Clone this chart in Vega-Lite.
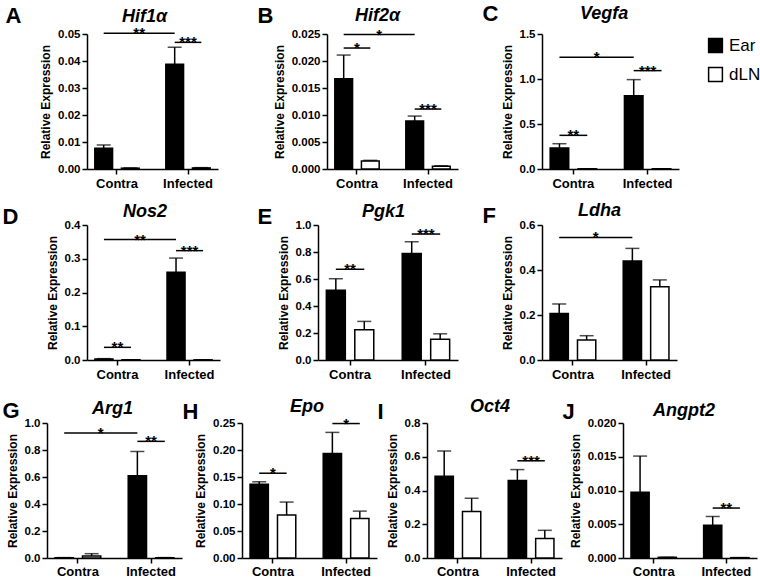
{
"$schema":"https://vega.github.io/schema/vega-lite/v6.json",
"padding":{"left":1,"top":2,"right":0,"bottom":0},
"spacing":17,
"resolve":{"scale":{"xOffset":"independent","fill":"independent"},"legend":{"fill":"independent"}},
"vconcat":[
{"spacing":12,
 "resolve":{"scale":{"xOffset":"independent","fill":"independent"},"legend":{"fill":"independent"}},
 "vconcat":[
 {"spacing":0,
  "resolve":{"scale":{"xOffset":"independent","fill":"independent"},"legend":{"fill":"independent"}},
  "hconcat":[
  {"width":4,"height":135,"data":{"values":[]},"mark":"point"},
  {"width":170,"height":135,"title":{"text":"Hif1α","dx":35,"offset":-21.5},
   "data":{"values":[{"g":"Contra","t":"Ear","m":0.0077,"hi":0.0089},{"g":"Contra","t":"dLN","m":0.0003,"hi":0.0004},{"g":"Infected","t":"Ear","m":0.0388,"hi":0.0451},{"g":"Infected","t":"dLN","m":0.0004,"hi":0.0005}]},
   "layer":[
    {"mark":{"type":"bar","stroke":"black","strokeWidth":1.5},"encoding":{
     "x":{"field":"g","type":"nominal","scale":{"domain":["Contra","Infected"],"range":[0,131],"paddingInner":0.375,"paddingOuter":0.11},"axis":{"title":"A","titleX":-82,"titleY":-147}},
     "xOffset":{"field":"t","type":"nominal","scale":{"domain":["Ear","dLN"],"paddingInner":0.333,"paddingOuter":0}},
     "y":{"field":"m","type":"quantitative","scale":{"domain":[0,0.05],"nice":false},"axis":{"title":"Relative Expression","values":[0,0.01,0.02,0.03,0.04,0.05],"tickCount":20,"format":".2f"}},
     "fill":{"field":"t","type":"nominal","scale":{"domain":["Ear","dLN"],"range":["black","white"]},"legend":null}}},
    {"mark":{"type":"rule","color":"black","strokeWidth":1.5},"encoding":{"x":{"field":"g","type":"nominal"},"xOffset":{"field":"t","type":"nominal"},"y":{"field":"m","type":"quantitative"},"y2":{"field":"hi"}}},
    {"mark":{"type":"tick","color":"black","size":14,"thickness":1.5},"encoding":{"x":{"field":"g","type":"nominal"},"xOffset":{"field":"t","type":"nominal"},"y":{"field":"hi","type":"quantitative"}}},
    {"data":{"values":[{"id":1,"g":"Contra","t":"Ear","y":0.0503},{"id":1,"g":"Infected","t":"Ear","y":0.0503},{"id":2,"g":"Infected","t":"Ear","y":0.0469},{"id":2,"g":"Infected","t":"dLN","y":0.0469}]},
     "mark":{"type":"line","color":"black","strokeWidth":1.5},"encoding":{"x":{"field":"g","type":"nominal"},"xOffset":{"field":"t","type":"nominal"},"y":{"field":"y","type":"quantitative"},"detail":{"field":"id"}}},
    {"data":{"values":[{"g":"Infected","y":0.0469,"s":"***"}]},"mark":{"type":"text","fontSize":15,"fontWeight":"bold","baseline":"alphabetic","dy":5},"encoding":{"x":{"field":"g","type":"nominal"},"y":{"field":"y","type":"quantitative"},"text":{"field":"s"}}},
    {"data":{"values":[{"g":"Contra","y":0.0503,"s":"**"}]},"mark":{"type":"text","fontSize":15,"fontWeight":"bold","baseline":"alphabetic","dy":5},"encoding":{"x":{"field":"g","type":"nominal","bandPosition":1},"y":{"field":"y","type":"quantitative"},"text":{"field":"s"}}}
   ]},
  {"width":155,"height":135,"title":{"text":"Hif2α","dx":28,"offset":-20.5},
   "data":{"values":[{"g":"Contra","t":"Ear","m":0.0167,"hi":0.0211},{"g":"Contra","t":"dLN","m":0.0015,"hi":0.0016},{"g":"Infected","t":"Ear","m":0.0089,"hi":0.0098},{"g":"Infected","t":"dLN","m":0.0005,"hi":0.0006}]},
   "layer":[
    {"mark":{"type":"bar","stroke":"black","strokeWidth":1.5},"encoding":{
     "x":{"field":"g","type":"nominal","scale":{"domain":["Contra","Infected"],"range":[0,131],"paddingInner":0.375,"paddingOuter":0.11},"axis":{"title":"B","titleX":-70,"titleY":-147}},
     "xOffset":{"field":"t","type":"nominal","scale":{"domain":["Ear","dLN"],"paddingInner":0.333,"paddingOuter":0}},
     "y":{"field":"m","type":"quantitative","scale":{"domain":[0,0.025],"nice":false},"axis":{"title":"Relative Expression","values":[0,0.005,0.01,0.015,0.02,0.025],"tickCount":20,"format":".3f"}},
     "fill":{"field":"t","type":"nominal","scale":{"domain":["Ear","dLN"],"range":["black","white"]},"legend":null}}},
    {"mark":{"type":"rule","color":"black","strokeWidth":1.5},"encoding":{"x":{"field":"g","type":"nominal"},"xOffset":{"field":"t","type":"nominal"},"y":{"field":"m","type":"quantitative"},"y2":{"field":"hi"}}},
    {"mark":{"type":"tick","color":"black","size":14,"thickness":1.5},"encoding":{"x":{"field":"g","type":"nominal"},"xOffset":{"field":"t","type":"nominal"},"y":{"field":"hi","type":"quantitative"}}},
    {"data":{"values":[{"id":1,"g":"Contra","t":"Ear","y":0.0249},{"id":1,"g":"Infected","t":"Ear","y":0.0249},{"id":2,"g":"Contra","t":"Ear","y":0.0224},{"id":2,"g":"Contra","t":"dLN","y":0.0224},{"id":3,"g":"Infected","t":"Ear","y":0.0111},{"id":3,"g":"Infected","t":"dLN","y":0.0111}]},
     "mark":{"type":"line","color":"black","strokeWidth":1.5},"encoding":{"x":{"field":"g","type":"nominal"},"xOffset":{"field":"t","type":"nominal"},"y":{"field":"y","type":"quantitative"},"detail":{"field":"id"}}},
    {"data":{"values":[{"g":"Contra","y":0.0224,"s":"*"},{"g":"Infected","y":0.0111,"s":"***"}]},"mark":{"type":"text","fontSize":15,"fontWeight":"bold","baseline":"alphabetic","dy":5},"encoding":{"x":{"field":"g","type":"nominal"},"y":{"field":"y","type":"quantitative"},"text":{"field":"s"}}},
    {"data":{"values":[{"g":"Contra","y":0.0249,"s":"*"}]},"mark":{"type":"text","fontSize":15,"fontWeight":"bold","baseline":"alphabetic","dy":5},"encoding":{"x":{"field":"g","type":"nominal","bandPosition":1},"y":{"field":"y","type":"quantitative"},"text":{"field":"s"}}}
   ]},
  {"width":137,"height":135,"title":{"text":"Vegfa","dx":38,"offset":-20.5},
   "data":{"values":[{"g":"Contra","t":"Ear","m":0.233,"hi":0.281},{"g":"Contra","t":"dLN","m":0.002,"hi":0.003},{"g":"Infected","t":"Ear","m":0.815,"hi":0.993},{"g":"Infected","t":"dLN","m":0.002,"hi":0.003}]},
   "layer":[
    {"mark":{"type":"bar","stroke":"black","strokeWidth":1.5},"encoding":{
     "x":{"field":"g","type":"nominal","scale":{"domain":["Contra","Infected"],"range":[0,137],"paddingInner":0.375,"paddingOuter":0.11},"axis":{"title":"C","titleX":-60,"titleY":-149}},
     "xOffset":{"field":"t","type":"nominal","scale":{"domain":["Ear","dLN"],"paddingInner":0.333,"paddingOuter":0}},
     "y":{"field":"m","type":"quantitative","scale":{"domain":[0,1.5],"nice":false},"axis":{"title":"Relative Expression","values":[0,0.5,1,1.5],"tickCount":20,"format":".1f","labelBound":false,"labelFlush":false,"labelOverlap":false}},
     "fill":{"field":"t","type":"nominal","scale":{"domain":["Ear","dLN"],"range":["black","white"]},"legend":{"orient":"right","offset":25,"padding":3,"title":null,"symbolType":"square","symbolSize":190,"symbolStrokeColor":"black","symbolStrokeWidth":1.5,"labelFontSize":17,"labelFontWeight":"normal","labelColor":"black","labelOffset":5,"rowPadding":8}}}},
    {"mark":{"type":"rule","color":"black","strokeWidth":1.5},"encoding":{"x":{"field":"g","type":"nominal"},"xOffset":{"field":"t","type":"nominal"},"y":{"field":"m","type":"quantitative"},"y2":{"field":"hi"}}},
    {"mark":{"type":"tick","color":"black","size":14,"thickness":1.5},"encoding":{"x":{"field":"g","type":"nominal"},"xOffset":{"field":"t","type":"nominal"},"y":{"field":"hi","type":"quantitative"}}},
    {"data":{"values":[{"id":1,"g":"Contra","t":"Ear","y":1.241},{"id":1,"g":"Infected","t":"Ear","y":1.241},{"id":2,"g":"Infected","t":"Ear","y":1.093},{"id":2,"g":"Infected","t":"dLN","y":1.093},{"id":3,"g":"Contra","t":"Ear","y":0.374},{"id":3,"g":"Contra","t":"dLN","y":0.374}]},
     "mark":{"type":"line","color":"black","strokeWidth":1.5},"encoding":{"x":{"field":"g","type":"nominal"},"xOffset":{"field":"t","type":"nominal"},"y":{"field":"y","type":"quantitative"},"detail":{"field":"id"}}},
    {"data":{"values":[{"g":"Infected","y":1.093,"s":"***"},{"g":"Contra","y":0.374,"s":"**"}]},"mark":{"type":"text","fontSize":15,"fontWeight":"bold","baseline":"alphabetic","dy":5},"encoding":{"x":{"field":"g","type":"nominal"},"y":{"field":"y","type":"quantitative"},"text":{"field":"s"}}},
    {"data":{"values":[{"g":"Contra","y":1.241,"s":"*"}]},"mark":{"type":"text","fontSize":15,"fontWeight":"bold","baseline":"alphabetic","dy":5},"encoding":{"x":{"field":"g","type":"nominal","bandPosition":1},"y":{"field":"y","type":"quantitative"},"text":{"field":"s"}}}
   ]}
  ]},
 {"spacing":0,
  "resolve":{"scale":{"xOffset":"independent","fill":"independent"},"legend":{"fill":"independent"}},
  "hconcat":[
  {"width":1,"height":135,"data":{"values":[]},"mark":"point"},
  {"width":170,"height":135,"title":{"text":"Nos2","dx":36,"offset":-16},
   "data":{"values":[{"g":"Contra","t":"Ear","m":0.003,"hi":0.004},{"g":"Contra","t":"dLN","m":0.0005,"hi":0.0006},{"g":"Infected","t":"Ear","m":0.26,"hi":0.302},{"g":"Infected","t":"dLN","m":0.0005,"hi":0.0006}]},
   "layer":[
    {"mark":{"type":"bar","stroke":"black","strokeWidth":1.5},"encoding":{
     "x":{"field":"g","type":"nominal","scale":{"domain":["Contra","Infected"],"range":[0,133],"paddingInner":0.375,"paddingOuter":0.11},"axis":{"title":"D","titleX":-85,"titleY":-137}},
     "xOffset":{"field":"t","type":"nominal","scale":{"domain":["Ear","dLN"],"paddingInner":0.333,"paddingOuter":0}},
     "y":{"field":"m","type":"quantitative","scale":{"domain":[0,0.4],"nice":false},"axis":{"title":"Relative Expression","values":[0,0.1,0.2,0.3,0.4],"tickCount":20,"format":".1f"}},
     "fill":{"field":"t","type":"nominal","scale":{"domain":["Ear","dLN"],"range":["black","white"]},"legend":null}}},
    {"mark":{"type":"rule","color":"black","strokeWidth":1.5},"encoding":{"x":{"field":"g","type":"nominal"},"xOffset":{"field":"t","type":"nominal"},"y":{"field":"m","type":"quantitative"},"y2":{"field":"hi"}}},
    {"mark":{"type":"tick","color":"black","size":14,"thickness":1.5},"encoding":{"x":{"field":"g","type":"nominal"},"xOffset":{"field":"t","type":"nominal"},"y":{"field":"hi","type":"quantitative"}}},
    {"data":{"values":[{"id":1,"g":"Contra","t":"Ear","y":0.357},{"id":1,"g":"Infected","t":"Ear","y":0.357},{"id":2,"g":"Infected","t":"Ear","y":0.324},{"id":2,"g":"Infected","t":"dLN","y":0.324},{"id":3,"g":"Contra","t":"Ear","y":0.0375},{"id":3,"g":"Contra","t":"dLN","y":0.0375}]},
     "mark":{"type":"line","color":"black","strokeWidth":1.5},"encoding":{"x":{"field":"g","type":"nominal"},"xOffset":{"field":"t","type":"nominal"},"y":{"field":"y","type":"quantitative"},"detail":{"field":"id"}}},
    {"data":{"values":[{"g":"Infected","y":0.324,"s":"***"},{"g":"Contra","y":0.0375,"s":"**"}]},"mark":{"type":"text","fontSize":15,"fontWeight":"bold","baseline":"alphabetic","dy":5},"encoding":{"x":{"field":"g","type":"nominal"},"y":{"field":"y","type":"quantitative"},"text":{"field":"s"}}},
    {"data":{"values":[{"g":"Contra","y":0.357,"s":"**"}]},"mark":{"type":"text","fontSize":15,"fontWeight":"bold","baseline":"alphabetic","dy":5},"encoding":{"x":{"field":"g","type":"nominal","bandPosition":1},"y":{"field":"y","type":"quantitative"},"text":{"field":"s"}}}
   ]},
  {"width":164,"height":135,"title":{"text":"Pgk1","dx":44,"offset":-16},
   "data":{"values":[{"g":"Contra","t":"Ear","m":0.517,"hi":0.602},{"g":"Contra","t":"dLN","m":0.224,"hi":0.286},{"g":"Infected","t":"Ear","m":0.789,"hi":0.876},{"g":"Infected","t":"dLN","m":0.154,"hi":0.194}]},
   "layer":[
    {"mark":{"type":"bar","stroke":"black","strokeWidth":1.5},"encoding":{
     "x":{"field":"g","type":"nominal","scale":{"domain":["Contra","Infected"],"range":[0,140],"paddingInner":0.375,"paddingOuter":0.11},"axis":{"title":"E","titleX":-61,"titleY":-137}},
     "xOffset":{"field":"t","type":"nominal","scale":{"domain":["Ear","dLN"],"paddingInner":0.333,"paddingOuter":0}},
     "y":{"field":"m","type":"quantitative","scale":{"domain":[0,1],"nice":false},"axis":{"title":"Relative Expression","values":[0,0.2,0.4,0.6,0.8,1],"tickCount":20,"format":".1f"}},
     "fill":{"field":"t","type":"nominal","scale":{"domain":["Ear","dLN"],"range":["black","white"]},"legend":null}}},
    {"mark":{"type":"rule","color":"black","strokeWidth":1.5},"encoding":{"x":{"field":"g","type":"nominal"},"xOffset":{"field":"t","type":"nominal"},"y":{"field":"m","type":"quantitative"},"y2":{"field":"hi"}}},
    {"mark":{"type":"tick","color":"black","size":14,"thickness":1.5},"encoding":{"x":{"field":"g","type":"nominal"},"xOffset":{"field":"t","type":"nominal"},"y":{"field":"hi","type":"quantitative"}}},
    {"data":{"values":[{"id":1,"g":"Contra","t":"Ear","y":0.672},{"id":1,"g":"Contra","t":"dLN","y":0.672},{"id":2,"g":"Infected","t":"Ear","y":0.933},{"id":2,"g":"Infected","t":"dLN","y":0.933}]},
     "mark":{"type":"line","color":"black","strokeWidth":1.5},"encoding":{"x":{"field":"g","type":"nominal"},"xOffset":{"field":"t","type":"nominal"},"y":{"field":"y","type":"quantitative"},"detail":{"field":"id"}}},
    {"data":{"values":[{"g":"Contra","y":0.672,"s":"**"},{"g":"Infected","y":0.933,"s":"***"}]},"mark":{"type":"text","fontSize":15,"fontWeight":"bold","baseline":"alphabetic","dy":5},"encoding":{"x":{"field":"g","type":"nominal"},"y":{"field":"y","type":"quantitative"},"text":{"field":"s"}}}
   ]},
  {"width":135,"height":135,"title":{"text":"Ldha","dx":36,"offset":-16},
   "data":{"values":[{"g":"Contra","t":"Ear","m":0.207,"hi":0.249},{"g":"Contra","t":"dLN","m":0.089,"hi":0.108},{"g":"Infected","t":"Ear","m":0.44,"hi":0.496},{"g":"Infected","t":"dLN","m":0.326,"hi":0.356}]},
   "layer":[
    {"mark":{"type":"bar","stroke":"black","strokeWidth":1.5},"encoding":{
     "x":{"field":"g","type":"nominal","scale":{"domain":["Contra","Infected"],"range":[0,135],"paddingInner":0.375,"paddingOuter":0.11},"axis":{"title":"F","titleX":-60,"titleY":-138}},
     "xOffset":{"field":"t","type":"nominal","scale":{"domain":["Ear","dLN"],"paddingInner":0.333,"paddingOuter":0}},
     "y":{"field":"m","type":"quantitative","scale":{"domain":[0,0.6],"nice":false},"axis":{"title":"Relative Expression","values":[0,0.2,0.4,0.6],"tickCount":20,"format":".1f"}},
     "fill":{"field":"t","type":"nominal","scale":{"domain":["Ear","dLN"],"range":["black","white"]},"legend":null}}},
    {"mark":{"type":"rule","color":"black","strokeWidth":1.5},"encoding":{"x":{"field":"g","type":"nominal"},"xOffset":{"field":"t","type":"nominal"},"y":{"field":"m","type":"quantitative"},"y2":{"field":"hi"}}},
    {"mark":{"type":"tick","color":"black","size":14,"thickness":1.5},"encoding":{"x":{"field":"g","type":"nominal"},"xOffset":{"field":"t","type":"nominal"},"y":{"field":"hi","type":"quantitative"}}},
    {"data":{"values":[{"id":1,"g":"Contra","t":"Ear","y":0.545},{"id":1,"g":"Infected","t":"Ear","y":0.545}]},
     "mark":{"type":"line","color":"black","strokeWidth":1.5},"encoding":{"x":{"field":"g","type":"nominal"},"xOffset":{"field":"t","type":"nominal"},"y":{"field":"y","type":"quantitative"},"detail":{"field":"id"}}},
    {"data":{"values":[{"g":"Contra","y":0.545,"s":"*"}]},"mark":{"type":"text","fontSize":15,"fontWeight":"bold","baseline":"alphabetic","dy":5},"encoding":{"x":{"field":"g","type":"nominal","bandPosition":1},"y":{"field":"y","type":"quantitative"},"text":{"field":"s"}}}
   ]}
  ]}
 ]},
{"spacing":0,
 "resolve":{"scale":{"xOffset":"independent","fill":"independent"},"legend":{"fill":"independent"}},
 "hconcat":[
 {"width":1,"height":135,"data":{"values":[]},"mark":"point"},
 {"width":135,"height":135,"title":{"text":"Arg1","dx":45,"offset":-19},
  "data":{"values":[{"g":"Contra","t":"Ear","m":0.002,"hi":0.003},{"g":"Contra","t":"dLN","m":0.015,"hi":0.032},{"g":"Infected","t":"Ear","m":0.61,"hi":0.789},{"g":"Infected","t":"dLN","m":0.002,"hi":0.003}]},
  "layer":[
   {"mark":{"type":"bar","stroke":"black","strokeWidth":1.5},"encoding":{
    "x":{"field":"g","type":"nominal","scale":{"domain":["Contra","Infected"],"range":[0,135],"paddingInner":0.375,"paddingOuter":0.11},"axis":{"title":"G","titleX":-45,"titleY":-141,"labelPadding":2}},
    "xOffset":{"field":"t","type":"nominal","scale":{"domain":["Ear","dLN"],"paddingInner":0.333,"paddingOuter":0}},
    "y":{"field":"m","type":"quantitative","scale":{"domain":[0,1],"nice":false},"axis":{"title":"Relative Expression","values":[0,0.2,0.4,0.6,0.8,1],"tickCount":20,"format":".1f"}},
    "fill":{"field":"t","type":"nominal","scale":{"domain":["Ear","dLN"],"range":["black","white"]},"legend":null}}},
   {"mark":{"type":"rule","color":"black","strokeWidth":1.5},"encoding":{"x":{"field":"g","type":"nominal"},"xOffset":{"field":"t","type":"nominal"},"y":{"field":"m","type":"quantitative"},"y2":{"field":"hi"}}},
   {"mark":{"type":"tick","color":"black","size":14,"thickness":1.5},"encoding":{"x":{"field":"g","type":"nominal"},"xOffset":{"field":"t","type":"nominal"},"y":{"field":"hi","type":"quantitative"}}},
   {"data":{"values":[{"id":1,"g":"Contra","t":"Ear","y":0.926},{"id":1,"g":"Infected","t":"Ear","y":0.926},{"id":2,"g":"Infected","t":"Ear","y":0.864},{"id":2,"g":"Infected","t":"dLN","y":0.864}]},
    "mark":{"type":"line","color":"black","strokeWidth":1.5},"encoding":{"x":{"field":"g","type":"nominal"},"xOffset":{"field":"t","type":"nominal"},"y":{"field":"y","type":"quantitative"},"detail":{"field":"id"}}},
   {"data":{"values":[{"g":"Infected","y":0.864,"s":"**"}]},"mark":{"type":"text","fontSize":15,"fontWeight":"bold","baseline":"alphabetic","dy":5},"encoding":{"x":{"field":"g","type":"nominal"},"y":{"field":"y","type":"quantitative"},"text":{"field":"s"}}},
   {"data":{"values":[{"g":"Contra","y":0.926,"s":"*"}]},"mark":{"type":"text","fontSize":15,"fontWeight":"bold","baseline":"alphabetic","dy":5},"encoding":{"x":{"field":"g","type":"nominal","bandPosition":1},"y":{"field":"y","type":"quantitative"},"text":{"field":"s"}}}
  ]},
 {"width":135,"height":135,"title":{"text":"Epo","dx":48,"offset":-16},
  "data":{"values":[{"g":"Contra","t":"Ear","m":0.1365,"hi":0.141},{"g":"Contra","t":"dLN","m":0.0794,"hi":0.1036},{"g":"Infected","t":"Ear","m":0.1935,"hi":0.2326},{"g":"Infected","t":"dLN","m":0.0732,"hi":0.0868}]},
  "layer":[
   {"mark":{"type":"bar","stroke":"black","strokeWidth":1.5},"encoding":{
    "x":{"field":"g","type":"nominal","scale":{"domain":["Contra","Infected"],"range":[0,135],"paddingInner":0.375,"paddingOuter":0.11},"axis":{"title":"H","titleX":-60,"titleY":-140,"labelPadding":2}},
    "xOffset":{"field":"t","type":"nominal","scale":{"domain":["Ear","dLN"],"paddingInner":0.333,"paddingOuter":0}},
    "y":{"field":"m","type":"quantitative","scale":{"domain":[0,0.25],"nice":false},"axis":{"title":"Relative Expression","values":[0,0.05,0.1,0.15,0.2,0.25],"tickCount":20,"format":".2f"}},
    "fill":{"field":"t","type":"nominal","scale":{"domain":["Ear","dLN"],"range":["black","white"]},"legend":null}}},
   {"mark":{"type":"rule","color":"black","strokeWidth":1.5},"encoding":{"x":{"field":"g","type":"nominal"},"xOffset":{"field":"t","type":"nominal"},"y":{"field":"m","type":"quantitative"},"y2":{"field":"hi"}}},
   {"mark":{"type":"tick","color":"black","size":14,"thickness":1.5},"encoding":{"x":{"field":"g","type":"nominal"},"xOffset":{"field":"t","type":"nominal"},"y":{"field":"hi","type":"quantitative"}}},
   {"data":{"values":[{"id":1,"g":"Contra","t":"Ear","y":0.157},{"id":1,"g":"Contra","t":"dLN","y":0.157},{"id":2,"g":"Infected","t":"Ear","y":0.249},{"id":2,"g":"Infected","t":"dLN","y":0.249}]},
    "mark":{"type":"line","color":"black","strokeWidth":1.5},"encoding":{"x":{"field":"g","type":"nominal"},"xOffset":{"field":"t","type":"nominal"},"y":{"field":"y","type":"quantitative"},"detail":{"field":"id"}}},
   {"data":{"values":[{"g":"Contra","y":0.157,"s":"*"},{"g":"Infected","y":0.249,"s":"*"}]},"mark":{"type":"text","fontSize":15,"fontWeight":"bold","baseline":"alphabetic","dy":5},"encoding":{"x":{"field":"g","type":"nominal"},"y":{"field":"y","type":"quantitative"},"text":{"field":"s"}}}
  ]},
 {"width":135,"height":135,"title":{"text":"Oct4","dx":43,"offset":-16},
  "data":{"values":[{"g":"Contra","t":"Ear","m":0.484,"hi":0.634},{"g":"Contra","t":"dLN","m":0.276,"hi":0.354},{"g":"Infected","t":"Ear","m":0.46,"hi":0.524},{"g":"Infected","t":"dLN","m":0.116,"hi":0.164}]},
  "layer":[
   {"mark":{"type":"bar","stroke":"black","strokeWidth":1.5},"encoding":{
    "x":{"field":"g","type":"nominal","scale":{"domain":["Contra","Infected"],"range":[0,135],"paddingInner":0.375,"paddingOuter":0.11},"axis":{"title":"I","titleX":-50,"titleY":-140,"labelPadding":2}},
    "xOffset":{"field":"t","type":"nominal","scale":{"domain":["Ear","dLN"],"paddingInner":0.333,"paddingOuter":0}},
    "y":{"field":"m","type":"quantitative","scale":{"domain":[0,0.8],"nice":false},"axis":{"title":"Relative Expression","values":[0,0.2,0.4,0.6,0.8],"tickCount":20,"format":".1f"}},
    "fill":{"field":"t","type":"nominal","scale":{"domain":["Ear","dLN"],"range":["black","white"]},"legend":null}}},
   {"mark":{"type":"rule","color":"black","strokeWidth":1.5},"encoding":{"x":{"field":"g","type":"nominal"},"xOffset":{"field":"t","type":"nominal"},"y":{"field":"m","type":"quantitative"},"y2":{"field":"hi"}}},
   {"mark":{"type":"tick","color":"black","size":14,"thickness":1.5},"encoding":{"x":{"field":"g","type":"nominal"},"xOffset":{"field":"t","type":"nominal"},"y":{"field":"hi","type":"quantitative"}}},
   {"data":{"values":[{"id":1,"g":"Infected","t":"Ear","y":0.576},{"id":1,"g":"Infected","t":"dLN","y":0.576}]},
    "mark":{"type":"line","color":"black","strokeWidth":1.5},"encoding":{"x":{"field":"g","type":"nominal"},"xOffset":{"field":"t","type":"nominal"},"y":{"field":"y","type":"quantitative"},"detail":{"field":"id"}}},
   {"data":{"values":[{"g":"Infected","y":0.576,"s":"***"}]},"mark":{"type":"text","fontSize":15,"fontWeight":"bold","baseline":"alphabetic","dy":5},"encoding":{"x":{"field":"g","type":"nominal"},"y":{"field":"y","type":"quantitative"},"text":{"field":"s"}}}
  ]},
 {"width":134,"height":135,"title":{"text":"Angpt2","dx":30,"offset":-20},
  "data":{"values":[{"g":"Contra","t":"Ear","m":0.00975,"hi":0.0151},{"g":"Contra","t":"dLN","m":0.0001,"hi":0.0001},{"g":"Infected","t":"Ear","m":0.00485,"hi":0.00615},{"g":"Infected","t":"dLN","m":0.00005,"hi":0.00005}]},
  "layer":[
   {"mark":{"type":"bar","stroke":"black","strokeWidth":1.5},"encoding":{
    "x":{"field":"g","type":"nominal","scale":{"domain":["Contra","Infected"],"range":[0,134],"paddingInner":0.375,"paddingOuter":0.11},"axis":{"title":"J","titleX":-61,"titleY":-140,"labelPadding":2}},
    "xOffset":{"field":"t","type":"nominal","scale":{"domain":["Ear","dLN"],"paddingInner":0.333,"paddingOuter":0}},
    "y":{"field":"m","type":"quantitative","scale":{"domain":[0,0.02],"nice":false},"axis":{"title":"Relative Expression","values":[0,0.005,0.01,0.015,0.02],"tickCount":20,"format":".3f"}},
    "fill":{"field":"t","type":"nominal","scale":{"domain":["Ear","dLN"],"range":["black","white"]},"legend":null}}},
   {"mark":{"type":"rule","color":"black","strokeWidth":1.5},"encoding":{"x":{"field":"g","type":"nominal"},"xOffset":{"field":"t","type":"nominal"},"y":{"field":"m","type":"quantitative"},"y2":{"field":"hi"}}},
   {"mark":{"type":"tick","color":"black","size":14,"thickness":1.5},"encoding":{"x":{"field":"g","type":"nominal"},"xOffset":{"field":"t","type":"nominal"},"y":{"field":"hi","type":"quantitative"}}},
   {"data":{"values":[{"id":1,"g":"Infected","t":"Ear","y":0.0074},{"id":1,"g":"Infected","t":"dLN","y":0.0074}]},
    "mark":{"type":"line","color":"black","strokeWidth":1.5},"encoding":{"x":{"field":"g","type":"nominal"},"xOffset":{"field":"t","type":"nominal"},"y":{"field":"y","type":"quantitative"},"detail":{"field":"id"}}},
   {"data":{"values":[{"g":"Infected","y":0.0074,"s":"**"}]},"mark":{"type":"text","fontSize":15,"fontWeight":"bold","baseline":"alphabetic","dy":5},"encoding":{"x":{"field":"g","type":"nominal"},"y":{"field":"y","type":"quantitative"},"text":{"field":"s"}}}
  ]}
 ]}
],
"config":{
 "font":"Liberation Sans",
 "background":"white",
 "view":{"stroke":null},
 "axis":{"domainColor":"black","domainWidth":1.5,"tickColor":"black","tickWidth":1.5,"tickSize":5,"labelColor":"black","labelFontWeight":"bold","titleColor":"black","titleFontWeight":"bold","grid":false,"labelOverlap":false},
 "axisX":{"labelFontSize":13,"labelAngle":0,"labelPadding":3,"titleFontSize":22,"titleAngle":0,"titleAlign":"left","titleBaseline":"alphabetic"},
 "axisY":{"labelFontSize":11.5,"labelPadding":2,"titleFontSize":12,"titlePadding":5,"labelOverlap":false},
 "title":{"fontSize":18,"fontStyle":"italic","fontWeight":"bold","anchor":"start","frame":"group","baseline":"alphabetic","color":"black"}
}
}
